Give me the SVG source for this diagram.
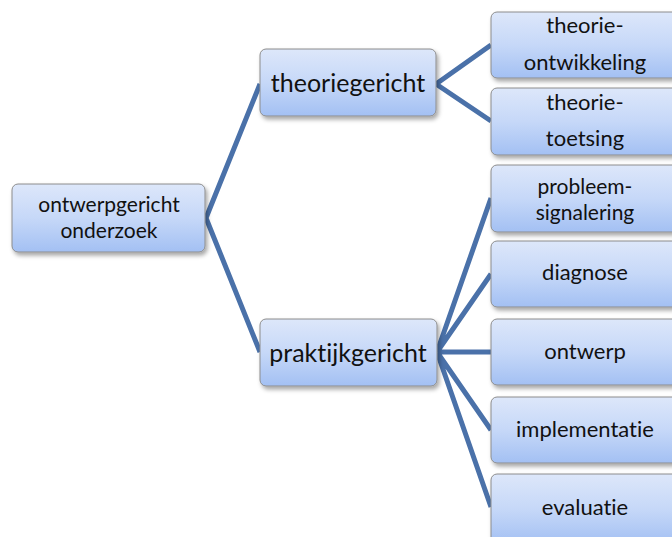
<svg xmlns="http://www.w3.org/2000/svg" width="672" height="537" viewBox="0 0 672 537">
<defs>
<linearGradient id="g" x1="0" y1="0" x2="0" y2="1">
<stop offset="0" stop-color="#dde7fa"/>
<stop offset="0.5" stop-color="#c6d8f8"/>
<stop offset="1" stop-color="#a3c0f3"/>
</linearGradient>
<filter id="sh" x="-10%" y="-10%" width="130%" height="140%">
<feDropShadow dx="2" dy="3" stdDeviation="2" flood-color="#000" flood-opacity="0.35"/>
</filter>
<style>
.box{fill:url(#g);stroke:#8c8c8c;stroke-width:1;filter:url(#sh)}
.t{font-family:Lato,"Liberation Sans",sans-serif;fill:#111;text-anchor:middle;font-variant-ligatures:none}
.s1{font-size:21px}
.s2{font-size:25px}
.s3{font-size:22px}
.s4{font-size:21px}
.c{stroke:#4a71a9;stroke-width:5;fill:none;stroke-linejoin:round}
</style>
</defs>
<rect width="672" height="537" fill="#fff"/>
<g id="connectors">
<polyline class="c" points="260,84 206,218 260,352"/>
<polyline class="c" points="491,45 436,84 491,121"/>
<path class="c" d="M491,198 L437,352 M491,274 L437,352 M491,352 L437,352 M491,430 L437,352 M491,507 L437,352"/>
</g>
<g id="root">
<rect class="box" x="12" y="184" width="193" height="68" rx="6"/>
<text class="t s1" x="109" y="212">ontwerpgericht</text>
<text class="t s1" x="109" y="238">onderzoek</text>
</g>
<g id="theoriegericht">
<rect class="box" x="260" y="49" width="176" height="67" rx="6"/>
<text class="t s2" x="348" y="92">theoriegericht</text>
</g>
<g id="praktijkgericht">
<rect class="box" x="260" y="319" width="177" height="67" rx="6"/>
<text class="t s2" x="348" y="362">praktijkgericht</text>
</g>
<g id="theorie-ontwikkeling">
<rect class="box" x="491" y="12" width="188" height="66" rx="6"/>
<text class="t s3" x="585" y="33">theorie-</text>
<text class="t s3" x="585" y="70">ontwikkeling</text>
</g>
<g id="theorie-toetsing">
<rect class="box" x="491" y="88" width="188" height="67" rx="6"/>
<text class="t s3" x="585" y="110">theorie-</text>
<text class="t s3" x="585" y="146">toetsing</text>
</g>
<g id="probleemsignalering">
<rect class="box" x="491" y="165" width="188" height="67" rx="6"/>
<text class="t s4" x="585" y="194">probleem-</text>
<text class="t s4" x="585" y="220">signalering</text>
</g>
<g id="diagnose">
<rect class="box" x="491" y="241" width="188" height="66" rx="6"/>
<text class="t s3" x="585" y="280">diagnose</text>
</g>
<g id="ontwerp">
<rect class="box" x="491" y="319" width="188" height="66" rx="6"/>
<text class="t s3" x="585" y="359">ontwerp</text>
</g>
<g id="implementatie">
<rect class="box" x="491" y="397" width="188" height="66" rx="6"/>
<text class="t s3" x="585" y="437">implementatie</text>
</g>
<g id="evaluatie">
<rect class="box" x="491" y="474" width="188" height="70" rx="6"/>
<text class="t s3" x="585" y="515">evaluatie</text>
</g>
</svg>
